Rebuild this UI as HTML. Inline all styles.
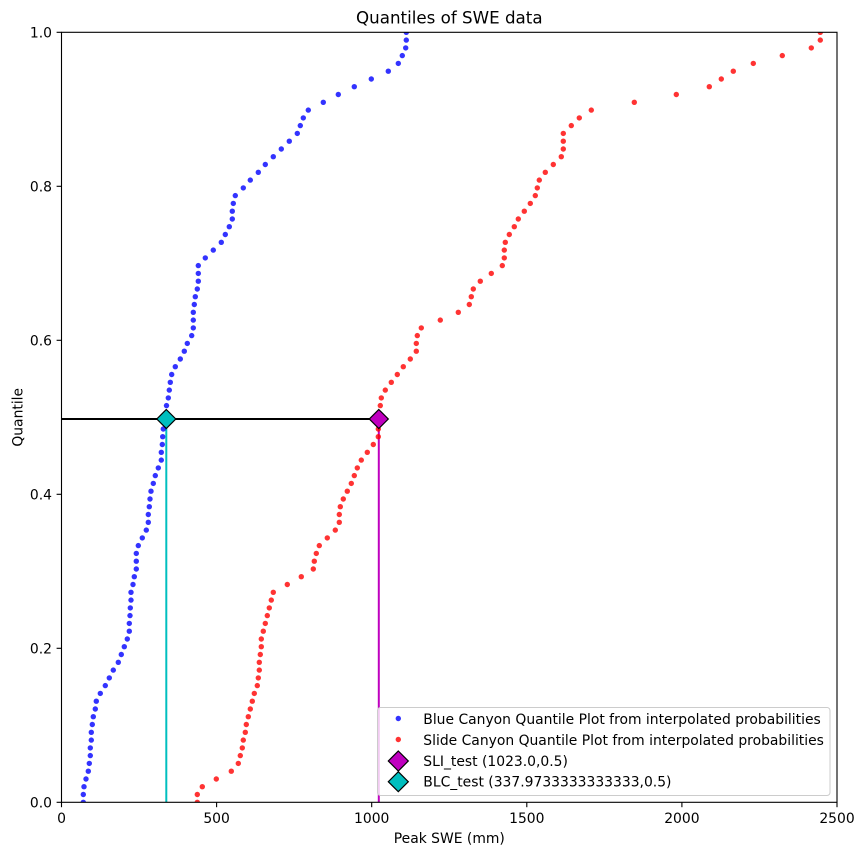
<!DOCTYPE html>
<html><head><meta charset="utf-8"><style>
html,body{margin:0;padding:0;background:#fff;}
svg{display:block;}
text{font-family:"DejaVu Sans","Liberation Sans",sans-serif;fill:#000;}
</style></head><body>
<svg width="863" height="855" viewBox="0 0 863 855" xmlns="http://www.w3.org/2000/svg">
<defs><clipPath id="ax"><rect x="61.5" y="32.3" width="775.5" height="770"/></clipPath></defs>
<rect width="863" height="855" fill="#fff"/>
<g clip-path="url(#ax)">
<line x1="166.3" y1="802.3" x2="166.3" y2="419" stroke="#00bfbf" stroke-width="2"/>
<line x1="378.8" y1="802.3" x2="378.8" y2="419" stroke="#bf00bf" stroke-width="2"/>
<line x1="61.5" y1="419" x2="378.8" y2="419" stroke="#000" stroke-width="2"/>
<g fill="#0000ff" fill-opacity="0.8">
<circle cx="83.3" cy="802.3" r="2.7"/><circle cx="83.3" cy="794.5" r="2.7"/><circle cx="84" cy="786.7" r="2.7"/><circle cx="86" cy="779.0" r="2.7"/><circle cx="88.3" cy="771.2" r="2.7"/><circle cx="89.3" cy="763.4" r="2.7"/><circle cx="90.3" cy="755.6" r="2.7"/><circle cx="90.3" cy="747.9" r="2.7"/><circle cx="91.3" cy="740.1" r="2.7"/><circle cx="91.3" cy="732.3" r="2.7"/>
<circle cx="92.3" cy="724.5" r="2.7"/><circle cx="93.3" cy="716.7" r="2.7"/><circle cx="95.3" cy="709.0" r="2.7"/><circle cx="96.3" cy="701.2" r="2.7"/><circle cx="100.3" cy="693.4" r="2.7"/><circle cx="105.3" cy="685.6" r="2.7"/><circle cx="109.3" cy="677.9" r="2.7"/><circle cx="113.3" cy="670.1" r="2.7"/><circle cx="118.3" cy="662.3" r="2.7"/><circle cx="121.3" cy="654.5" r="2.7"/>
<circle cx="124.3" cy="646.7" r="2.7"/><circle cx="127.3" cy="639.0" r="2.7"/><circle cx="129.3" cy="631.2" r="2.7"/><circle cx="129.3" cy="623.4" r="2.7"/><circle cx="130" cy="615.6" r="2.7"/><circle cx="130.3" cy="607.9" r="2.7"/><circle cx="131" cy="600.1" r="2.7"/><circle cx="131" cy="592.3" r="2.7"/><circle cx="133" cy="584.5" r="2.7"/><circle cx="134.3" cy="576.7" r="2.7"/>
<circle cx="136.3" cy="569.0" r="2.7"/><circle cx="136.3" cy="561.2" r="2.7"/><circle cx="136.3" cy="553.4" r="2.7"/><circle cx="138.3" cy="545.6" r="2.7"/><circle cx="142.3" cy="537.9" r="2.7"/><circle cx="146.3" cy="530.1" r="2.7"/><circle cx="148.3" cy="522.3" r="2.7"/><circle cx="148.3" cy="514.5" r="2.7"/><circle cx="149.3" cy="506.7" r="2.7"/><circle cx="150" cy="499.0" r="2.7"/>
<circle cx="151" cy="491.2" r="2.7"/><circle cx="153.3" cy="483.4" r="2.7"/><circle cx="155.3" cy="475.6" r="2.7"/><circle cx="158.3" cy="467.9" r="2.7"/><circle cx="161.3" cy="460.1" r="2.7"/><circle cx="161.3" cy="452.3" r="2.7"/><circle cx="162.3" cy="444.5" r="2.7"/><circle cx="162.7" cy="436.7" r="2.7"/><circle cx="163.3" cy="429.0" r="2.7"/><circle cx="164.5" cy="421.2" r="2.7"/>
<circle cx="165.5" cy="413.4" r="2.7"/><circle cx="166.5" cy="405.6" r="2.7"/><circle cx="168.3" cy="397.9" r="2.7"/><circle cx="169.3" cy="390.1" r="2.7"/><circle cx="170.3" cy="382.3" r="2.7"/><circle cx="171.7" cy="374.5" r="2.7"/><circle cx="175.3" cy="366.7" r="2.7"/><circle cx="180.3" cy="359.0" r="2.7"/><circle cx="184.3" cy="351.2" r="2.7"/><circle cx="187.3" cy="343.4" r="2.7"/>
<circle cx="191.7" cy="335.6" r="2.7"/><circle cx="193.3" cy="327.9" r="2.7"/><circle cx="193.3" cy="320.1" r="2.7"/><circle cx="193.3" cy="312.3" r="2.7"/><circle cx="194.3" cy="304.5" r="2.7"/><circle cx="195.3" cy="296.7" r="2.7"/><circle cx="197.3" cy="289.0" r="2.7"/><circle cx="198.3" cy="281.2" r="2.7"/><circle cx="198.3" cy="273.4" r="2.7"/><circle cx="198.3" cy="265.6" r="2.7"/>
<circle cx="205.3" cy="257.9" r="2.7"/><circle cx="213.3" cy="250.1" r="2.7"/><circle cx="221.3" cy="242.3" r="2.7"/><circle cx="225.3" cy="234.5" r="2.7"/><circle cx="229.3" cy="226.7" r="2.7"/><circle cx="232.3" cy="219.0" r="2.7"/><circle cx="232.3" cy="211.2" r="2.7"/><circle cx="233.3" cy="203.4" r="2.7"/><circle cx="235.3" cy="195.6" r="2.7"/><circle cx="243.3" cy="187.9" r="2.7"/>
<circle cx="250.3" cy="180.1" r="2.7"/><circle cx="258.3" cy="172.3" r="2.7"/><circle cx="265.3" cy="164.5" r="2.7"/><circle cx="273.3" cy="156.7" r="2.7"/><circle cx="281.3" cy="149.0" r="2.7"/><circle cx="289.3" cy="141.2" r="2.7"/><circle cx="297.3" cy="133.4" r="2.7"/><circle cx="300.3" cy="125.6" r="2.7"/><circle cx="303.3" cy="117.9" r="2.7"/><circle cx="308.3" cy="110.1" r="2.7"/>
<circle cx="323.3" cy="102.3" r="2.7"/><circle cx="338.3" cy="94.5" r="2.7"/><circle cx="354.3" cy="86.7" r="2.7"/><circle cx="371.3" cy="79.0" r="2.7"/><circle cx="388.3" cy="71.2" r="2.7"/><circle cx="398.3" cy="63.4" r="2.7"/><circle cx="402.3" cy="55.6" r="2.7"/><circle cx="405.7" cy="47.9" r="2.7"/><circle cx="406.3" cy="40.1" r="2.7"/><circle cx="406.3" cy="32.3" r="2.7"/>
</g>
<g fill="#ff0000" fill-opacity="0.8">
<circle cx="197.3" cy="802.3" r="2.7"/><circle cx="197.3" cy="794.5" r="2.7"/><circle cx="202.3" cy="786.7" r="2.7"/><circle cx="216.3" cy="779.0" r="2.7"/><circle cx="231.3" cy="771.2" r="2.7"/><circle cx="238.3" cy="763.4" r="2.7"/><circle cx="240.3" cy="755.6" r="2.7"/><circle cx="242.3" cy="747.9" r="2.7"/><circle cx="243.3" cy="740.1" r="2.7"/><circle cx="245.3" cy="732.3" r="2.7"/>
<circle cx="246.3" cy="724.5" r="2.7"/><circle cx="248.3" cy="716.7" r="2.7"/><circle cx="250.3" cy="709.0" r="2.7"/><circle cx="252.3" cy="701.2" r="2.7"/><circle cx="254.3" cy="693.4" r="2.7"/><circle cx="257.3" cy="685.6" r="2.7"/><circle cx="258.3" cy="677.9" r="2.7"/><circle cx="259.3" cy="670.1" r="2.7"/><circle cx="259.3" cy="662.3" r="2.7"/><circle cx="260.3" cy="654.5" r="2.7"/>
<circle cx="261.3" cy="646.7" r="2.7"/><circle cx="261.3" cy="639.0" r="2.7"/><circle cx="263.3" cy="631.2" r="2.7"/><circle cx="265.3" cy="623.4" r="2.7"/><circle cx="267.3" cy="615.6" r="2.7"/><circle cx="269.3" cy="607.9" r="2.7"/><circle cx="271.3" cy="600.1" r="2.7"/><circle cx="273.3" cy="592.3" r="2.7"/><circle cx="287.3" cy="584.5" r="2.7"/><circle cx="301.3" cy="576.7" r="2.7"/>
<circle cx="313.3" cy="569.0" r="2.7"/><circle cx="314.3" cy="561.2" r="2.7"/><circle cx="316.3" cy="553.4" r="2.7"/><circle cx="319.3" cy="545.6" r="2.7"/><circle cx="327.3" cy="537.9" r="2.7"/><circle cx="335.3" cy="530.1" r="2.7"/><circle cx="339.3" cy="522.3" r="2.7"/><circle cx="339.3" cy="514.5" r="2.7"/><circle cx="340.3" cy="506.7" r="2.7"/><circle cx="343.3" cy="499.0" r="2.7"/>
<circle cx="347.3" cy="491.2" r="2.7"/><circle cx="351.3" cy="483.4" r="2.7"/><circle cx="354.3" cy="475.6" r="2.7"/><circle cx="357.3" cy="467.9" r="2.7"/><circle cx="361.3" cy="460.1" r="2.7"/><circle cx="367.3" cy="452.3" r="2.7"/><circle cx="373.3" cy="444.5" r="2.7"/><circle cx="378.3" cy="436.7" r="2.7"/><circle cx="378.3" cy="429.0" r="2.7"/><circle cx="379" cy="421.2" r="2.7"/>
<circle cx="379.5" cy="413.4" r="2.7"/><circle cx="380.3" cy="405.6" r="2.7"/><circle cx="381.3" cy="397.9" r="2.7"/><circle cx="385.3" cy="390.1" r="2.7"/><circle cx="391.3" cy="382.3" r="2.7"/><circle cx="397.3" cy="374.5" r="2.7"/><circle cx="403.3" cy="366.7" r="2.7"/><circle cx="410.3" cy="359.0" r="2.7"/><circle cx="416.3" cy="351.2" r="2.7"/><circle cx="416.3" cy="343.4" r="2.7"/>
<circle cx="417.3" cy="335.6" r="2.7"/><circle cx="421.3" cy="327.9" r="2.7"/><circle cx="440.3" cy="320.1" r="2.7"/><circle cx="458.3" cy="312.3" r="2.7"/><circle cx="469.3" cy="304.5" r="2.7"/><circle cx="471.3" cy="296.7" r="2.7"/><circle cx="473.3" cy="289.0" r="2.7"/><circle cx="480.3" cy="281.2" r="2.7"/><circle cx="491.3" cy="273.4" r="2.7"/><circle cx="502.3" cy="265.6" r="2.7"/>
<circle cx="504.3" cy="257.9" r="2.7"/><circle cx="504.3" cy="250.1" r="2.7"/><circle cx="505.3" cy="242.3" r="2.7"/><circle cx="509.3" cy="234.5" r="2.7"/><circle cx="514.3" cy="226.7" r="2.7"/><circle cx="518.3" cy="219.0" r="2.7"/><circle cx="524.3" cy="211.2" r="2.7"/><circle cx="530.3" cy="203.4" r="2.7"/><circle cx="535.3" cy="195.6" r="2.7"/><circle cx="537.3" cy="187.9" r="2.7"/>
<circle cx="539.3" cy="180.1" r="2.7"/><circle cx="545.3" cy="172.3" r="2.7"/><circle cx="553.3" cy="164.5" r="2.7"/><circle cx="561.3" cy="156.7" r="2.7"/><circle cx="563.3" cy="149.0" r="2.7"/><circle cx="563.3" cy="141.2" r="2.7"/><circle cx="563.3" cy="133.4" r="2.7"/><circle cx="571.3" cy="125.6" r="2.7"/><circle cx="579.3" cy="117.9" r="2.7"/><circle cx="591.3" cy="110.1" r="2.7"/>
<circle cx="634.3" cy="102.3" r="2.7"/><circle cx="676.3" cy="94.5" r="2.7"/><circle cx="709.3" cy="86.7" r="2.7"/><circle cx="721.3" cy="79.0" r="2.7"/><circle cx="733.3" cy="71.2" r="2.7"/><circle cx="753.3" cy="63.4" r="2.7"/><circle cx="782.3" cy="55.6" r="2.7"/><circle cx="811.3" cy="47.9" r="2.7"/><circle cx="820.3" cy="40.1" r="2.7"/><circle cx="820.3" cy="32.3" r="2.7"/>
</g>
<polygon points="378.8,409.5 388.3,419 378.8,428.5 369.3,419" fill="#bf00bf" stroke="#000" stroke-width="1.2"/>
<polygon points="166.3,409.5 175.8,419 166.3,428.5 156.8,419" fill="#00bfbf" stroke="#000" stroke-width="1.2"/>
</g>
<!-- spines -->
<rect x="61.5" y="32.3" width="775.5" height="770" fill="none" stroke="#000" stroke-width="1.1"/>
<!-- x ticks -->
<g stroke="#000" stroke-width="1.1">
<line x1="61.5" y1="802.3" x2="61.5" y2="807.2"/>
<line x1="216.6" y1="802.3" x2="216.6" y2="807.2"/>
<line x1="371.7" y1="802.3" x2="371.7" y2="807.2"/>
<line x1="526.8" y1="802.3" x2="526.8" y2="807.2"/>
<line x1="681.9" y1="802.3" x2="681.9" y2="807.2"/>
<line x1="837" y1="802.3" x2="837" y2="807.2"/>
<line x1="56.6" y1="802.3" x2="61.5" y2="802.3"/>
<line x1="56.6" y1="648.3" x2="61.5" y2="648.3"/>
<line x1="56.6" y1="494.3" x2="61.5" y2="494.3"/>
<line x1="56.6" y1="340.3" x2="61.5" y2="340.3"/>
<line x1="56.6" y1="186.3" x2="61.5" y2="186.3"/>
<line x1="56.6" y1="32.3" x2="61.5" y2="32.3"/>
</g>
<g font-size="13.9px" text-anchor="middle">
<text x="61.5" y="823">0</text>
<text x="216.6" y="823">500</text>
<text x="371.7" y="823">1000</text>
<text x="526.8" y="823">1500</text>
<text x="681.9" y="823">2000</text>
<text x="837" y="823">2500</text>
</g>
<g font-size="13.9px" text-anchor="end">
<text x="52" y="807.3">0.0</text>
<text x="52" y="653.3">0.2</text>
<text x="52" y="499.3">0.4</text>
<text x="52" y="345.3">0.6</text>
<text x="52" y="191.3">0.8</text>
<text x="52" y="37.3">1.0</text>
</g>
<text x="449.3" y="843" font-size="13.9px" text-anchor="middle">Peak SWE (mm)</text>
<text transform="translate(22.5,417.3) rotate(-90)" font-size="13.9px" text-anchor="middle">Quantile</text>
<text x="449.3" y="23.5" font-size="16.7px" text-anchor="middle">Quantiles of SWE data</text>
<!-- legend -->
<rect x="377.5" y="707.5" width="452.5" height="88" rx="3" ry="3" fill="#fff" fill-opacity="0.8" stroke="#cccccc" stroke-width="1"/>
<circle cx="398.3" cy="718.5" r="2.7" fill="#0000ff" fill-opacity="0.8"/>
<circle cx="398.3" cy="739.5" r="2.7" fill="#ff0000" fill-opacity="0.8"/>
<polygon points="398.3,751 408.3,761 398.3,771 388.3,761" fill="#bf00bf" stroke="#000" stroke-width="1.2"/>
<polygon points="398.3,771.7 408.3,781.7 398.3,791.7 388.3,781.7" fill="#00bfbf" stroke="#000" stroke-width="1.2"/>
<g font-size="13.9px">
<text x="423.3" y="724">Blue Canyon Quantile Plot from interpolated probabilities</text>
<text x="423.3" y="745">Slide Canyon Quantile Plot from interpolated probabilities</text>
<text x="423.3" y="766">SLI_test (1023.0,0.5)</text>
<text x="423.3" y="786.5">BLC_test (337.9733333333333,0.5)</text>
</g>
</svg>
</body></html>
